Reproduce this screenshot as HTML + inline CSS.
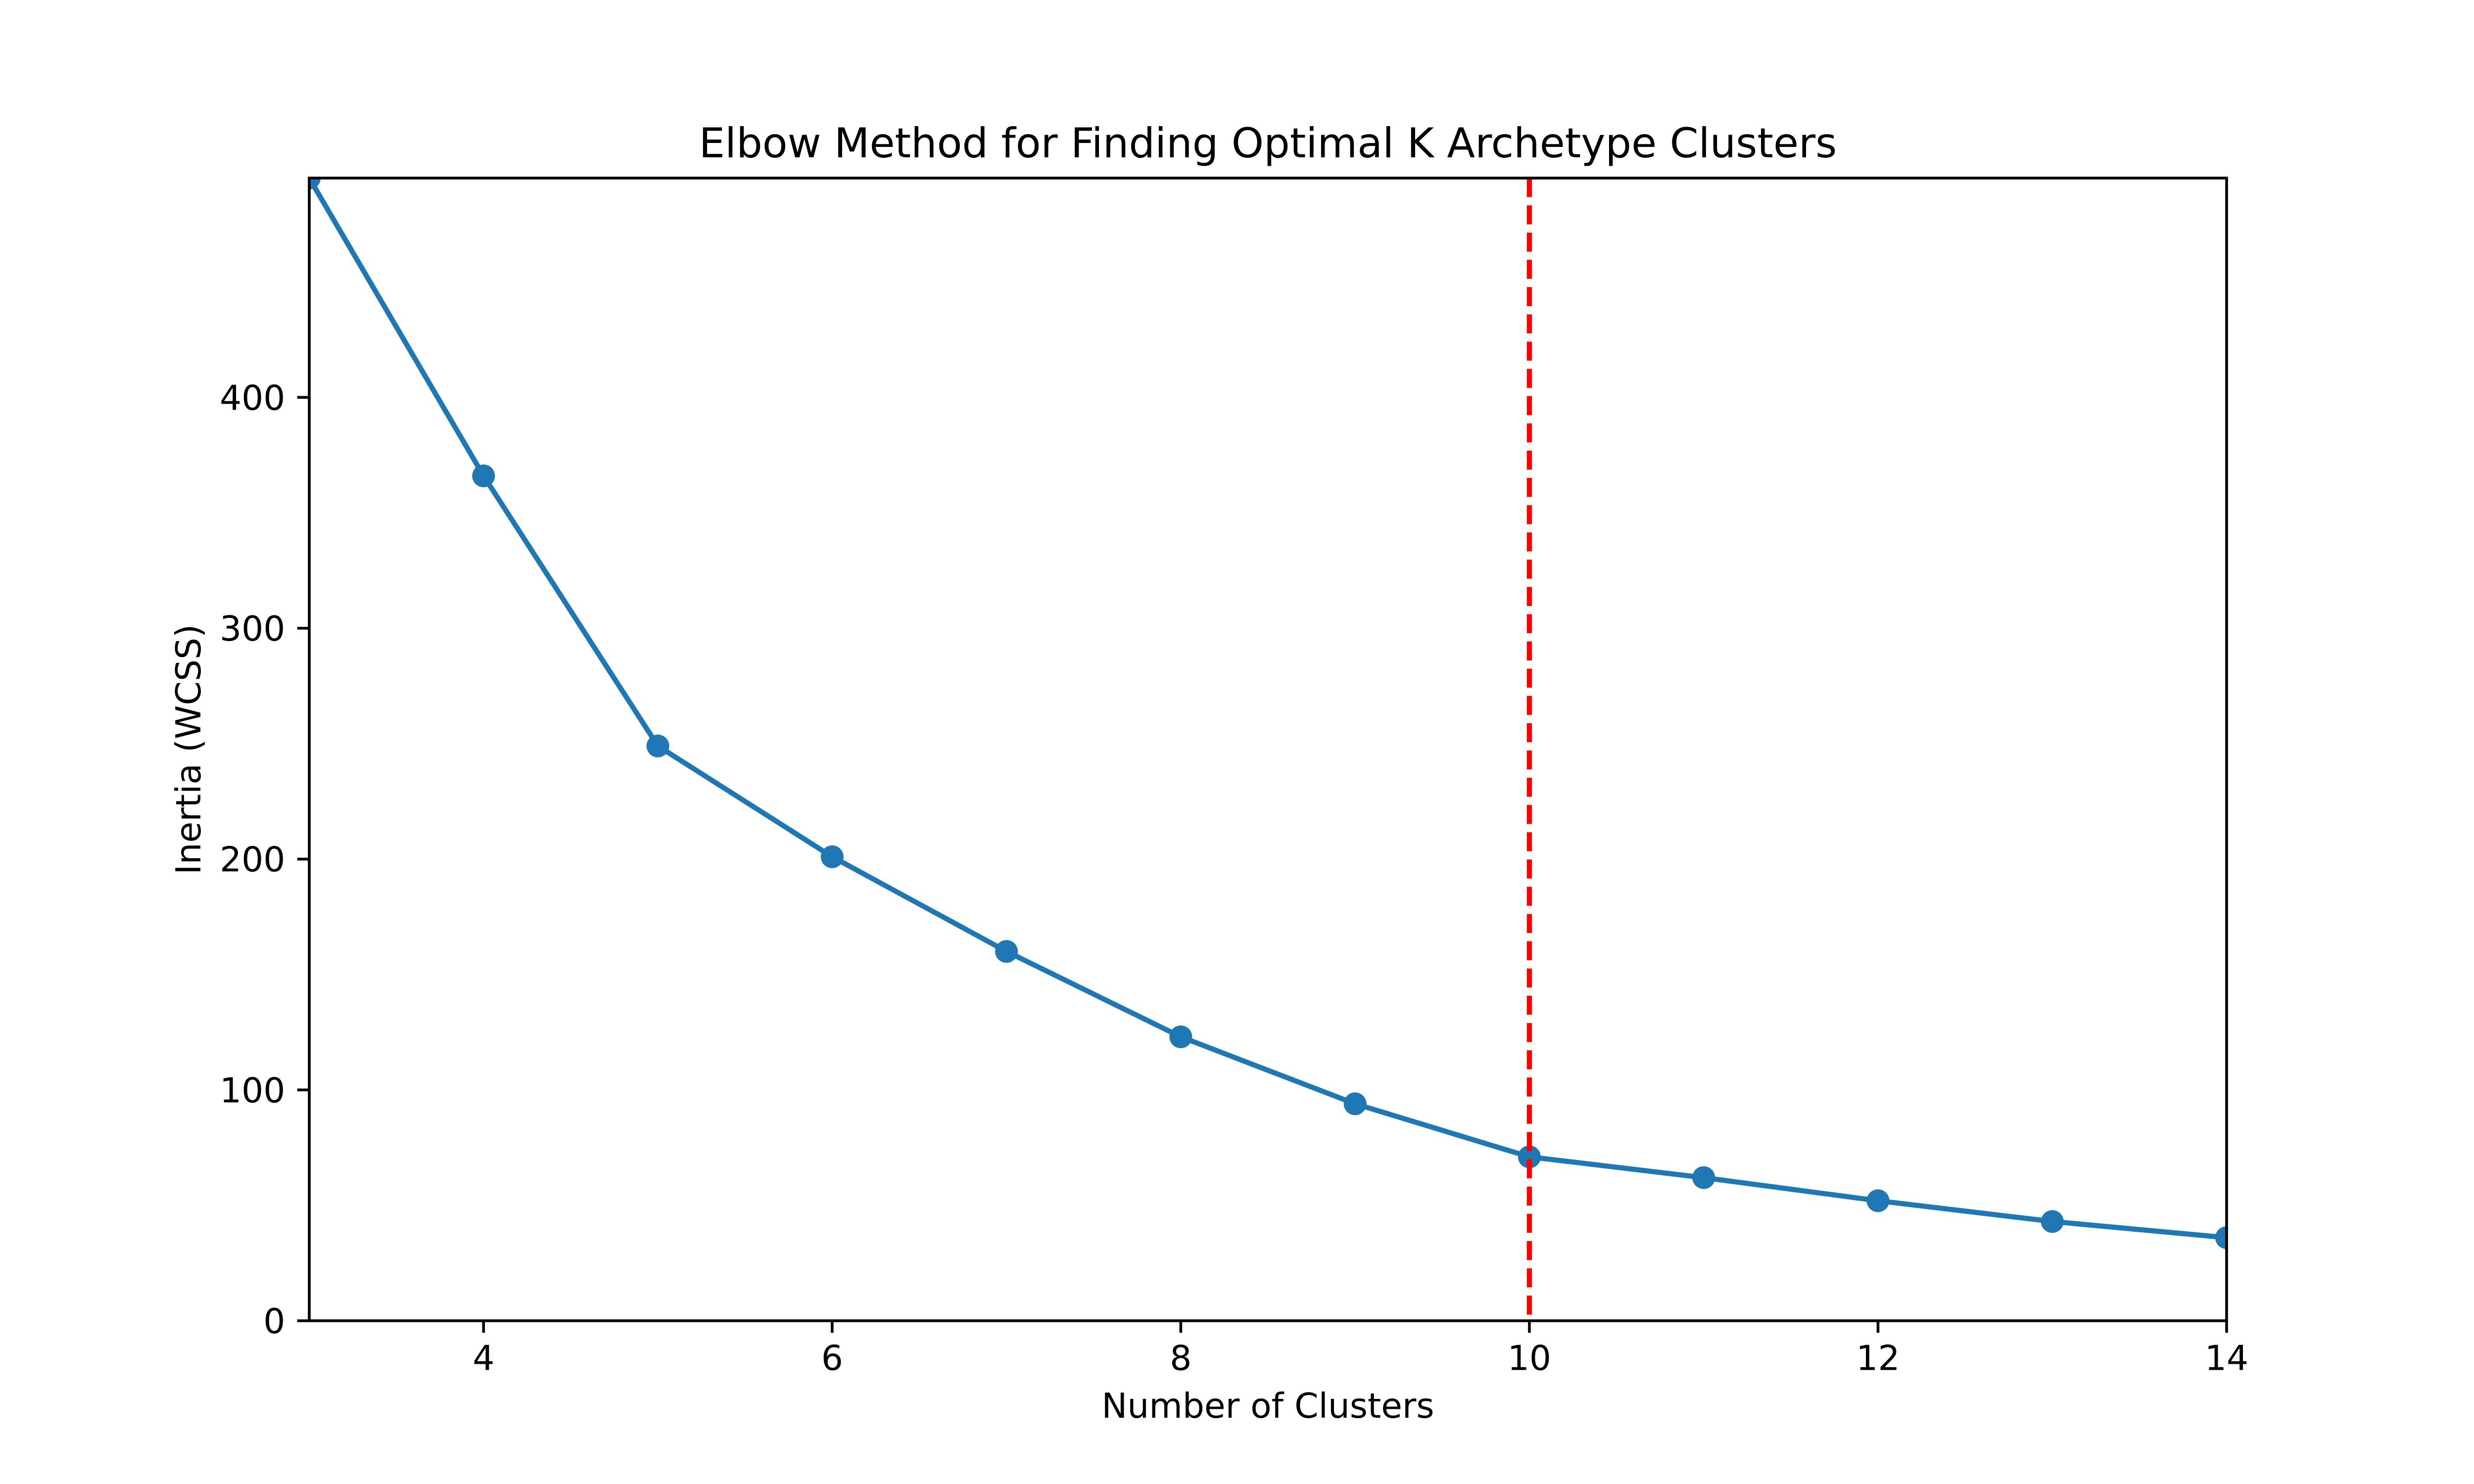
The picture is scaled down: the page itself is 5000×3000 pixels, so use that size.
<!DOCTYPE html>
<html><head><meta charset="utf-8"><style>
html,body{margin:0;padding:0;background:#fff;}
svg{display:block;font-family:"DejaVu Sans","Liberation Sans",sans-serif;}
</style></head><body>
<svg id="chart" width="5000" height="3000" viewBox="0 0 5000 3000" xmlns="http://www.w3.org/2000/svg">
<rect width="5000" height="3000" fill="#fff"/>
<defs><clipPath id="plotclip"><rect x="625" y="360" width="3875" height="2310"/></clipPath></defs>
<text x="2562.5" y="318" font-size="83" text-anchor="middle">Elbow Method for Finding Optimal K Archetype Clusters</text>
<text x="2562.5" y="2866" font-size="69.4" text-anchor="middle">Number of Clusters</text>
<text transform="translate(405,1515) rotate(-90)" font-size="69.4" text-anchor="middle">Inertia (WCSS)</text>
<g id="xticks"></g>
<g id="yticks"></g>
<g id="marks" clip-path="url(#plotclip)"></g>
<rect x="625" y="360" width="3875" height="2310" fill="none" stroke="#000" stroke-width="5.6"/>
</svg>
<script>
const clusters = [3,4,5,6,7,8,9,10,11,12,13,14];
const inertia = [495,366,249,201,160,123,94,71,62,52,43,36];
const xTicks = [4,6,8,10,12,14];
const yTicks = [0,100,200,300,400];
const optimalK = 10;
const NS = "http://www.w3.org/2000/svg";
const X0=625,X1=4500,Y0=2670,Y1=360, xmin=3,xmax=14,ymin=0,ymax=495;
const sx = v => X0 + (v-xmin)/(xmax-xmin)*(X1-X0);
const sy = v => Y0 - (v-ymin)/(ymax-ymin)*(Y0-Y1);
function mk(tag, attrs, parent){const e=document.createElementNS(NS,tag);for(const k in attrs)e.setAttribute(k,attrs[k]);parent.appendChild(e);return e;}
const xg=document.getElementById('xticks'), yg=document.getElementById('yticks'), mg=document.getElementById('marks');
xTicks.forEach(t=>{
  const l=mk('line',{x1:sx(t),x2:sx(t),y1:Y0,y2:Y0+24.3,stroke:'#000','stroke-width':5.6},xg);
  
  
  const tx=mk('text',{x:sx(t),y:Y0+24.3+24.3+51,'font-size':69.4,'text-anchor':'middle'},xg);
  tx.textContent=t;
  
  
});
yTicks.forEach(t=>{
  const l=mk('line',{x1:X0-24.3,x2:X0,y1:sy(t),y2:sy(t),stroke:'#000','stroke-width':5.6},yg);
  
  
  const tx=mk('text',{x:X0-24.3-24.3,y:sy(t)+25,'font-size':69.4,'text-anchor':'end'},yg);
  tx.textContent=t;
  
  
});
const pts=clusters.map((c,i)=>sx(c)+','+sy(inertia[i])).join(' ');
const pl=mk('polyline',{points:pts,fill:'none',stroke:'#1f77b4','stroke-width':10.4,'stroke-linejoin':'round','stroke-linecap':'square'},mg);


clusters.forEach((c,i)=>{
  const m=mk('circle',{cx:sx(c),cy:sy(inertia[i]),r:23,fill:'#1f77b4'},mg);
  
  
});
const vl=mk('line',{x1:sx(optimalK),x2:sx(optimalK),y1:Y1,y2:Y0,stroke:'#ff0000','stroke-width':10.4,'stroke-dasharray':'38.5 16.6'},mg);


</script>
</body></html>
